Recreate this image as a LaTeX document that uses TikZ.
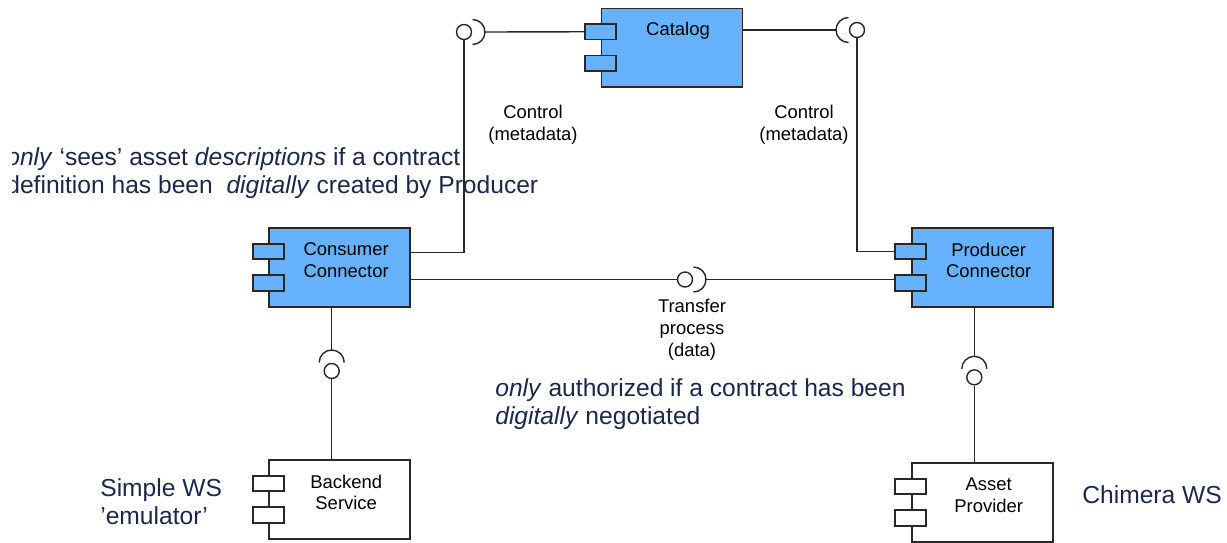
\documentclass[tikz,border=0pt]{standalone}
\usepackage{fontspec}
\setmainfont{Liberation Sans}
\usetikzlibrary{positioning}

\definecolor{compblue}{RGB}{102,178,255}
\definecolor{notenavy}{RGB}{28,40,74}
\definecolor{edge}{RGB}{40,40,40}

\begin{document}
\begin{tikzpicture}[
    comp/.style={rectangle, draw=edge, line width=1pt, fill=compblue, minimum width=2.82cm, minimum height=1.57cm, inner sep=0pt},
    plaincomp/.style={comp, fill=white},
    port/.style={rectangle, draw=edge, line width=1pt, minimum width=0.62cm, minimum height=0.31cm, inner sep=0pt},
    ctext/.style={align=center, inner sep=0pt, font=\fontsize{10.5}{12.4}\selectfont},
    ball/.style={circle, draw=edge, line width=0.8pt, fill=white, minimum size=0.3cm, inner sep=0pt},
    wire/.style={draw=edge, line width=0.8pt},
    note/.style={align=left, inner sep=0pt, text=notenavy, font=\fontsize{14}{16}\selectfont}
]

\useasboundingbox (0,0) rectangle (24.54,-10.84);

% Components
\node[comp] (cat) at (13.44,-0.955) {};
\node[comp] (cons) at (6.794,-5.35) {};
\node[comp] (prod) at (19.644,-5.35) {};
\node[plaincomp] (back) at (6.794,-9.99) {};
\node[plaincomp] (asset) at (19.644,-10.05) {};

% Two ports on the left side of every component
\foreach \cname/\cfill in {cat/compblue, cons/compblue, prod/compblue, back/white, asset/white} {
    \node[port, fill=\cfill] (\cname-p1) at ([yshift=0.32cm]\cname.west) {};
    \node[port, fill=\cfill] (\cname-p2) at ([yshift=-0.31cm]\cname.west) {};
}

% Component names
\node[ctext, below=0.29cm of cat.north, xshift=0.12cm] (cat-t) {Catalog};
\node[ctext, below=0.3cm of cons.north, xshift=0.13cm] (cons-t) {Consumer\\Connector};
\node[ctext, below=0.3cm of prod.north, xshift=0.13cm] (prod-t) {Producer\\Connector};
\node[ctext, below=0.3cm of back.north, xshift=0.13cm] (back-t) {Backend\\Service};
\node[ctext, below=0.3cm of asset.north, xshift=0.13cm] (asset-t) {Asset\\Provider};

% Notes (the left one runs off the edge)
\begin{scope}
    \clip (0.26,0) rectangle (24.54,-10.84);
    \node[note, anchor=west] (n-cons) at (0.12,-3.46)
        {\textit{only} ‘sees’ asset \textit{descriptions} if a contract\\
         definition has been~ \textit{digitally} created by Producer};
\end{scope}
\node[note, anchor=west] (n-tr) at (9.9,-8.08)
    {\textit{only} authorized if a contract has been\\ \textit{digitally} negotiated};
\node[note, anchor=west] (n-back) at (2.0,-10.03) {Simple WS\\’emulator’};
\node[note, anchor=west] (n-asset) at (21.64,-9.9) {Chimera WS};

% Interface balls
\node[ball] (b-cc) at (9.28,-0.64) {};
\node[ball] (b-cp) at (17.14,-0.60) {};
\node[ball] (b-tr) at (13.70,-5.59) {};
\node[ball] (b-bs) at (6.634,-7.42) {};
\node[ball] (b-ap) at (19.486,-7.546) {};

% Sockets round the balls
\draw[wire] (b-cc) ++(0.17,0.25) arc[start angle=90, end angle=-90, radius=0.25];
\draw[wire] (b-cp) ++(-0.17,0.25) arc[start angle=90, end angle=270, radius=0.25];
\draw[wire] (b-tr) ++(0.17,0.25) arc[start angle=90, end angle=-90, radius=0.25];
\draw[wire] (b-bs) ++(-0.25,0.17) arc[start angle=180, end angle=0, radius=0.25];
\draw[wire] (b-ap) ++(-0.25,0.17) arc[start angle=180, end angle=0, radius=0.25];

\coordinate (s-cc) at ([xshift=0.42cm]b-cc.center);
\coordinate (s-cp) at ([xshift=-0.42cm]b-cp.center);
\coordinate (s-tr) at ([xshift=0.42cm]b-tr.center);
\coordinate (s-bs) at ([yshift=0.42cm]b-bs.center);
\coordinate (s-ap) at ([yshift=0.42cm]b-ap.center);

% Control (metadata)
\draw[wire] ([yshift=0.3cm]cons.east) -| (b-cc.south);
\draw[wire] (s-cc) -- (cat-p1.west);
\draw[wire] (cat.east |- b-cp) -- (s-cp);
\draw[wire] (b-cp.south) |- (prod-p1.west);

% Transfer process (data)
\draw[wire] (cons.east |- b-tr) -- (b-tr.west);
\draw[wire] (s-tr) -- (prod-p2.west |- s-tr);

% Backends
\draw[wire] (cons.south -| b-bs) -- (s-bs);
\draw[wire] (b-bs.south) -- (back.north -| b-bs);
\draw[wire] (prod.south -| b-ap) -- (s-ap);
\draw[wire] (b-ap.south) -- (asset.north -| b-ap);

% Labels of the interfaces
\node[ctext] (l-cc) at (10.66,-2.5) {Control\\(metadata)};
\node[ctext] (l-cp) at (16.08,-2.5) {Control\\(metadata)};
\node[ctext] (l-tr) at (13.84,-6.6) {Transfer\\process\\(data)};

\end{tikzpicture}
\end{document}
